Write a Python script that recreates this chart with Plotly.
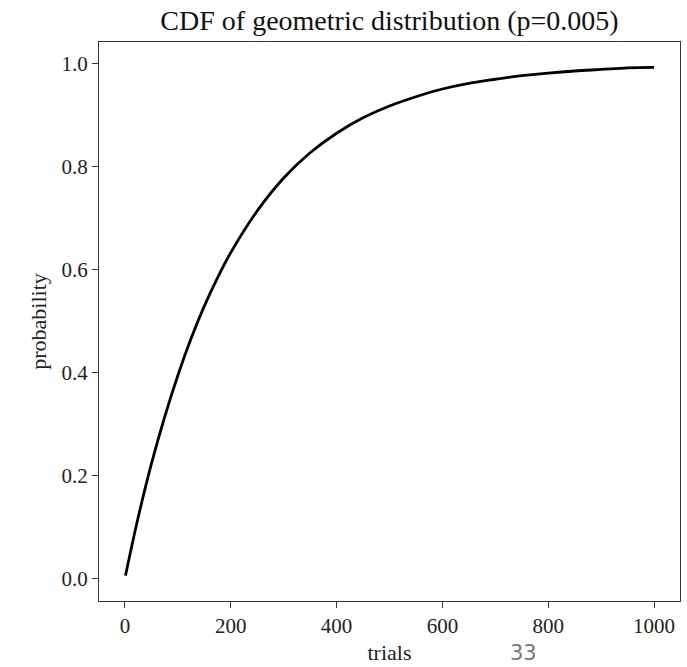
import plotly.graph_objects as go

# values
trials = [1, 25, 50, 75, 100, 125, 150, 175, 200, 250, 300, 350, 400, 450,
          500, 550, 600, 650, 700, 750, 800, 850, 900, 950, 1000]
probability = [0.005, 0.118, 0.222, 0.313, 0.394, 0.466, 0.529, 0.584, 0.633,
               0.714, 0.778, 0.827, 0.865, 0.895, 0.918, 0.936, 0.951, 0.962,
               0.970, 0.977, 0.982, 0.986, 0.989, 0.992, 0.993]
x_ticks = [0, 200, 400, 600, 800, 1000]
y_ticks = [0.0, 0.2, 0.4, 0.6, 0.8, 1.0]
y_tick_text = ["0.0", "0.2", "0.4", "0.6", "0.8", "1.0"]

serif = "Liberation Serif, Times New Roman, serif"

fig = go.Figure()
fig.add_trace(go.Scatter(x=trials, y=probability, mode="lines",
                         line=dict(color="black", width=2.8, shape="spline"),
                         showlegend=False, hoverinfo="skip"))

axis_common = dict(showline=True, linecolor="#333", linewidth=1.3, mirror=True,
                   ticks="outside", ticklen=6, tickwidth=1, tickcolor="#333",
                   showgrid=False, zeroline=False,
                   tickfont=dict(family=serif, size=21, color="#222"))

fig.update_layout(
    width=687, height=667,
    margin=dict(l=99, r=6, t=42, b=61),
    paper_bgcolor="white", plot_bgcolor="white",
    title=dict(text="CDF of geometric distribution (p=0.005)",
               font=dict(family=serif, size=28, color="#111"),
               x=0.5, xref="paper", xanchor="center", y=0.970, yanchor="middle"),
    xaxis=dict(range=[-49, 1049], tickvals=x_ticks,
               title=dict(text="trials", font=dict(family=serif, size=22, color="#222"),
                          standoff=7),
               **axis_common),
    yaxis=dict(range=[-0.0444, 1.0424], tickvals=y_ticks, ticktext=y_tick_text,
               title=dict(text="probability", font=dict(family=serif, size=22, color="#222"),
                          standoff=8),
               **axis_common),
)

fig.add_annotation(text="33", xref="paper", yref="paper", x=0.73, y=-0.093,
                   xanchor="center", yanchor="middle", showarrow=False,
                   font=dict(family="DejaVu Sans, sans-serif", size=21, color="#777"))

fig.write_html("out.html")
